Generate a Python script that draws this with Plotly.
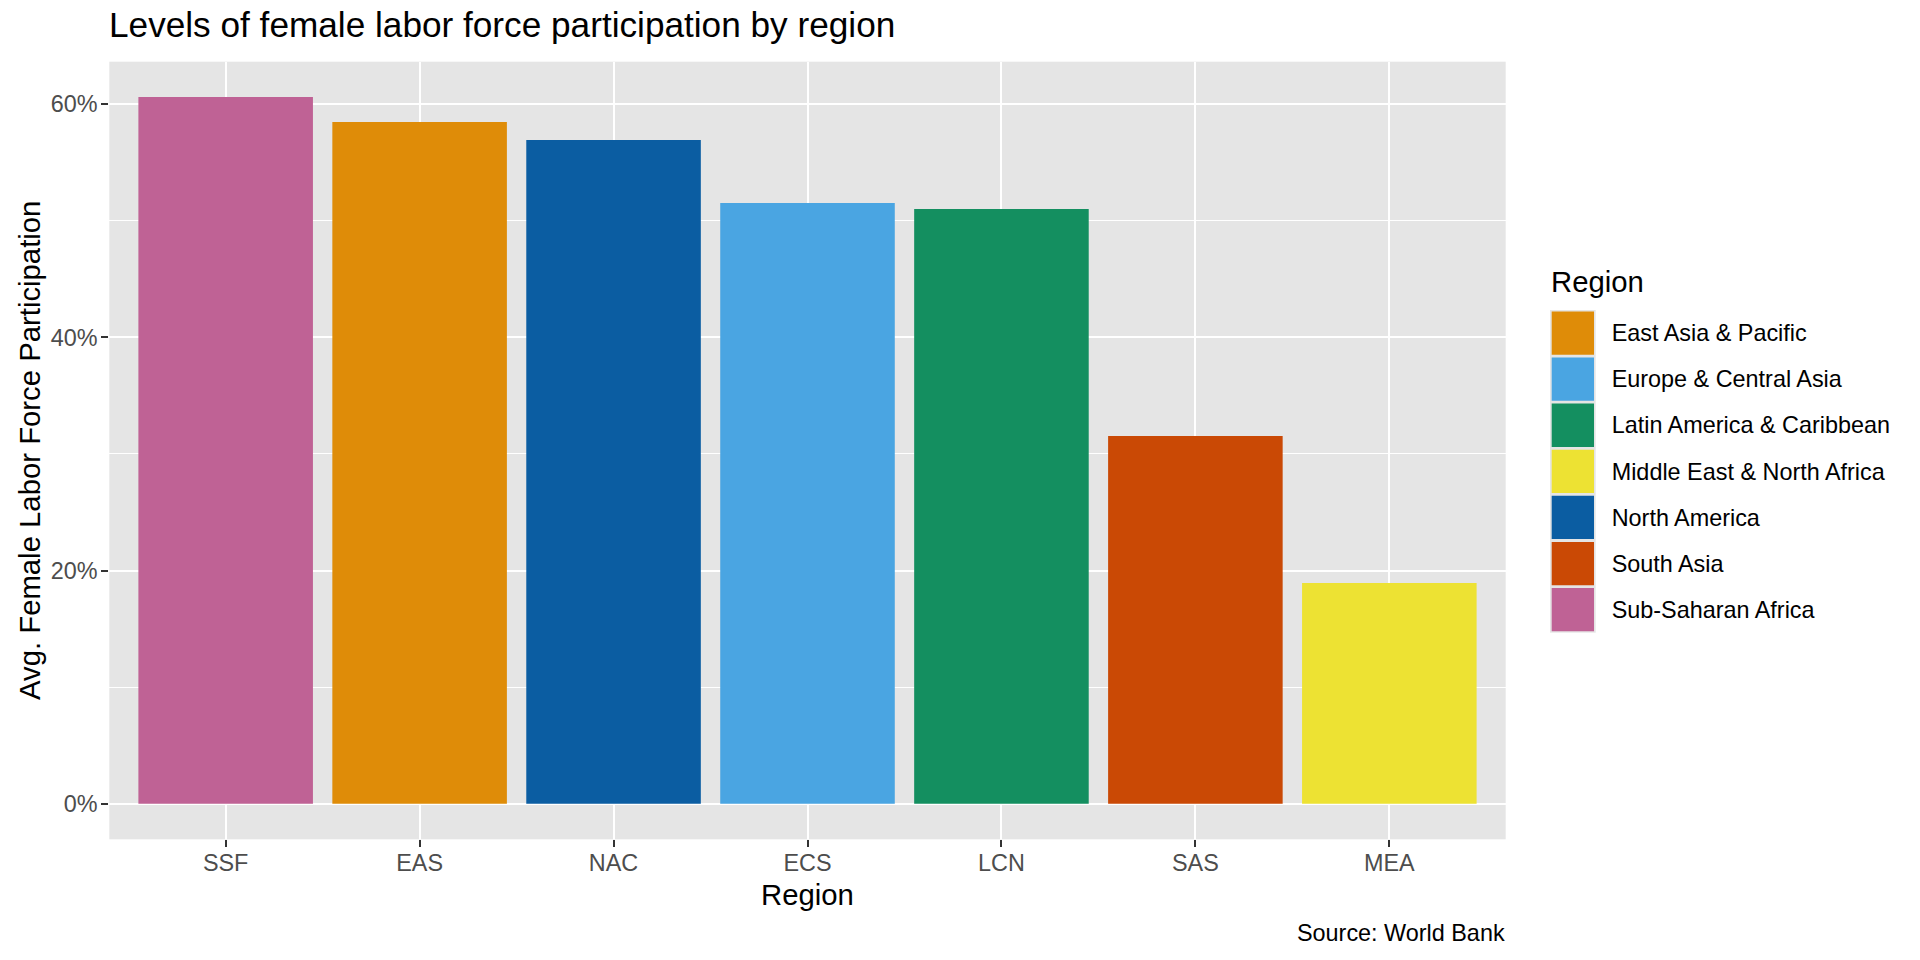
import plotly.graph_objs as go

# bar order as shown on the x axis (sorted by value)
codes = ['SSF', 'EAS', 'NAC', 'ECS', 'LCN', 'SAS', 'MEA']
code_regions = ['Sub-Saharan Africa', 'East Asia & Pacific', 'North America',
                'Europe & Central Asia', 'Latin America & Caribbean',
                'South Asia', 'Middle East & North Africa']
participation = [0.6062, 0.5848, 0.5694, 0.5153, 0.5102, 0.3154, 0.1893]

# legend order (alphabetical) and the fill colours
regions = ['East Asia & Pacific', 'Europe & Central Asia', 'Latin America & Caribbean',
           'Middle East & North Africa', 'North America', 'South Asia', 'Sub-Saharan Africa']
region_colors = ['#DF8C08', '#4AA5E2', '#148F60', '#EDE233', '#0B5DA2', '#CA4905', '#BF6295']

y_ticks = [0, 0.2, 0.4, 0.6]

W, H = 1920, 960
FONT = 'Liberation Sans, Arial, Helvetica, sans-serif'
BASE = 29.3
SMALL = 23.4


def px_x(v):
    return v / W


def px_y(v):
    return 1 - v / H


def main():
    color_of = dict(zip(regions, region_colors))
    bar_colors = [color_of[r] for r in code_regions]

    fig = go.Figure()

    fig.add_trace(go.Bar(
        x=codes, y=participation, width=0.9,
        marker=dict(color=bar_colors, line=dict(width=0)),
        customdata=code_regions,
        hovertemplate='%{customdata}<br>%{y:.1%}<extra></extra>',
        showlegend=False,
        xaxis='x', yaxis='y'))

    # legend keys drawn as a tiny bar chart on its own axes
    fig.add_trace(go.Bar(
        x=[1] * len(regions), y=regions, orientation='h', width=0.94,
        marker=dict(color=region_colors, line=dict(width=0)),
        hoverinfo='skip', showlegend=False,
        xaxis='x2', yaxis='y2'))

    fig.update_layout(
        width=W, height=H,
        margin=dict(l=0, r=0, t=0, b=0),
        paper_bgcolor='white',
        plot_bgcolor='#E5E5E5',
        font=dict(family=FONT, size=SMALL, color='black'),
        bargap=0.1,
        title=dict(text='Levels of female labor force participation by region',
                   x=px_x(109), xanchor='left', xref='paper',
                   y=px_y(25), yanchor='middle', yref='container',
                   font=dict(size=35.2, color='black', family=FONT)),
        xaxis=dict(
            domain=[px_x(109.3), px_x(1505.7)],
            type='category', categoryorder='array', categoryarray=codes,
            range=[-0.6, len(codes) - 0.4],
            showgrid=True, gridcolor='white', gridwidth=2.2,
            zeroline=False, showline=False,
            ticks='outside', ticklen=7, tickwidth=2, tickcolor='#333333',
            ticklabelstandoff=-4,
            tickfont=dict(size=SMALL, color='#4D4D4D'),
            anchor='y', fixedrange=True),
        yaxis=dict(
            domain=[px_y(839.3), px_y(61.7)],
            range=[-0.03054, 0.6365],
            tickvals=y_ticks, tickformat='.0%',
            showgrid=True, gridcolor='white', gridwidth=2.2,
            minor=dict(dtick=0.1, tick0=0, showgrid=True, gridcolor='white', gridwidth=1.1),
            zeroline=False, showline=False,
            ticks='outside', ticklen=7, tickwidth=2, tickcolor='#333333',
            ticklabelstandoff=-1,
            tickfont=dict(size=SMALL, color='#4D4D4D'),
            anchor='x', fixedrange=True),
        xaxis2=dict(
            domain=[px_x(1550), px_x(1595.7)],
            range=[-0.04, 1.04],
            showgrid=False, zeroline=False, showline=False, showticklabels=False,
            anchor='y2', fixedrange=True),
        yaxis2=dict(
            domain=[px_y(632.7), px_y(310)],
            type='category', categoryorder='array', categoryarray=regions[::-1],
            showgrid=False, zeroline=False, showline=False,
            side='right', ticks='', ticklabelstandoff=15,
            tickfont=dict(size=SMALL, color='black'),
            anchor='x2', fixedrange=True),
    )

    fig.add_annotation(text='Avg. Female Labor Force Participation', textangle=-90,
                       x=px_x(29.5), y=px_y(450.5), xref='paper', yref='paper',
                       xanchor='center', yanchor='middle', showarrow=False,
                       font=dict(size=BASE, color='black'))
    fig.add_annotation(text='Region',
                       x=px_x(807.5), y=px_y(894), xref='paper', yref='paper',
                       xanchor='center', yanchor='middle', showarrow=False,
                       font=dict(size=BASE, color='black'))
    fig.add_annotation(text='Region',
                       x=px_x(1549), y=px_y(282), xref='paper', yref='paper',
                       xanchor='left', yanchor='middle', showarrow=False,
                       font=dict(size=BASE, color='black'))
    fig.add_annotation(text='Source: World Bank',
                       x=px_x(1507), y=px_y(932.5), xref='paper', yref='paper',
                       xanchor='right', yanchor='middle', showarrow=False,
                       font=dict(size=SMALL, color='black'))

    # drop the default page margin so the figure sits at the window's corner
    fig.write_html('out.html', config={'displayModeBar': False},
                   post_script="document.body.style.margin = '0';")


if __name__ == '__main__':
    main()
